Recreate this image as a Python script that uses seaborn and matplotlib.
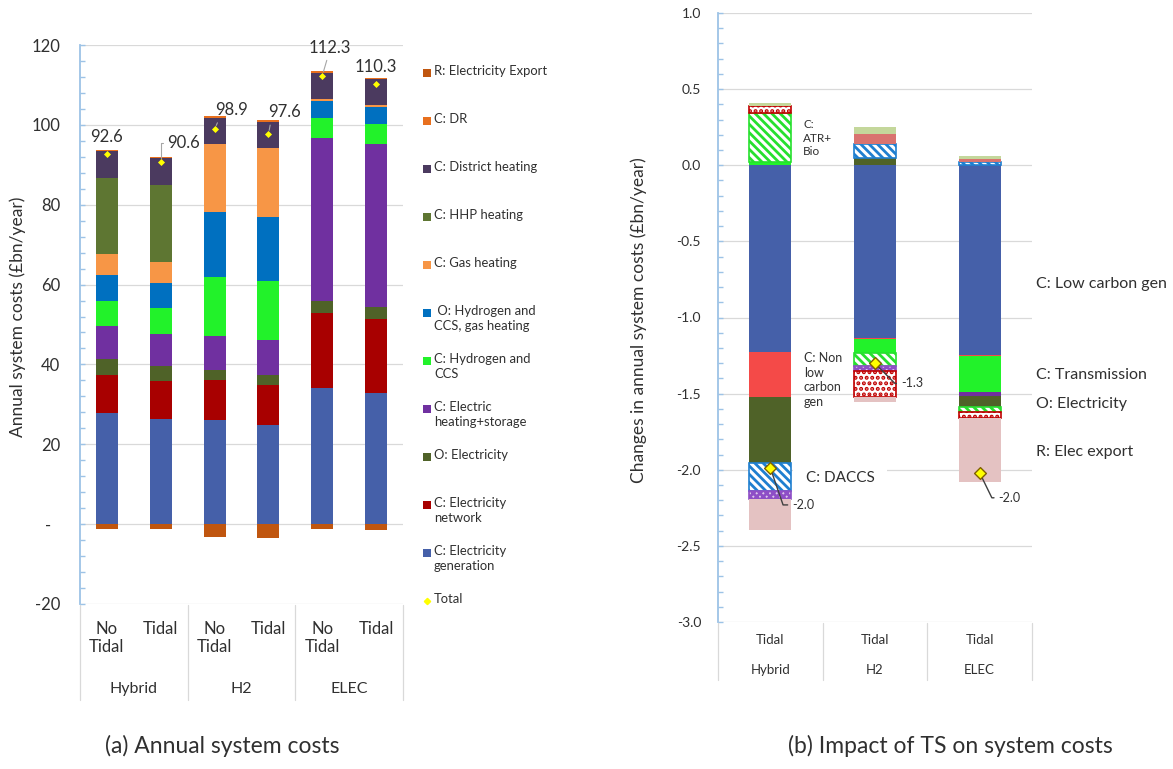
import numpy as np
import pandas as pd
import matplotlib
matplotlib.use("Agg")
import matplotlib.pyplot as plt
import matplotlib.transforms as mtransforms
from matplotlib.patches import Rectangle
from matplotlib.lines import Line2D
from matplotlib.ticker import MultipleLocator
import seaborn as sns

# ---------------- (a) Annual system costs, £bn/year ----------------
scenarios = ["Hybrid", "H2", "ELEC"]
case_labels = ["No\nTidal", "Tidal", "No\nTidal", "Tidal", "No\nTidal", "Tidal"]
bar_keys = ["Hybrid No Tidal", "Hybrid Tidal", "H2 No Tidal", "H2 Tidal",
            "ELEC No Tidal", "ELEC Tidal"]

elec_generation = [27.8, 26.3, 26.2, 24.9, 34.0, 32.8]
elec_network = [9.5, 9.6, 9.8, 9.9, 18.8, 18.5]
o_electricity = [4.0, 3.6, 2.5, 2.6, 3.2, 3.1]
electric_heating_storage = [8.4, 8.2, 8.6, 8.7, 40.7, 40.8]
hydrogen_ccs = [6.3, 6.5, 14.8, 14.8, 4.9, 4.9]
o_hydrogen_ccs_gas = [6.4, 6.3, 16.2, 15.9, 4.3, 4.3]
gas_heating = [5.2, 5.2, 17.1, 17.3, 0.6, 0.6]
hhp_heating = [19.2, 19.2, 0.0, 0.0, 0.0, 0.0]
district_heating = [6.6, 6.7, 6.6, 6.7, 6.6, 6.5]
demand_response = [0.3, 0.3, 0.3, 0.3, 0.3, 0.3]
electricity_export = [-1.1, -1.3, -3.2, -3.5, -1.1, -1.5]

# ---------------- (b) Impact of TS, £bn/year ----------------
impact_groups = ["Hybrid", "H2", "ELEC"]
impact_keys = ["Hybrid Tidal", "H2 Tidal", "ELEC Tidal"]

low_carbon_gen = [-1.224, -1.132, -1.245]
non_low_carbon_gen = [-0.300, -0.010, -0.010]
transmission = [0.020, -0.089, -0.235]
heating_storage = [0.0, 0.0, -0.023]
o_electricity_change = [-0.433, 0.045, -0.076]
daccs = [-0.183, 0.095, 0.020]
atr_bio = [0.323, -0.087, -0.031]
hydrogen_storage = [-0.052, -0.031, 0.0]
gas_network = [0.044, -0.170, -0.041]
distribution = [0.0, 0.068, 0.020]
elec_export = [-0.206, -0.033, -0.419]
other_costs = [0.023, 0.042, 0.020]

# ---------------- styling ----------------
TEXT = "#303030"
GRID = "#D9D9D9"
SPINE = "#9DC3E6"

sns.set_theme(style="white")
plt.rcParams["font.family"] = ["Lato", "DejaVu Sans"]
plt.rcParams["hatch.linewidth"] = 2.0
plt.rcParams["text.color"] = TEXT

W, H = 1173, 769
fig = plt.figure(figsize=(W / 100, H / 100), dpi=100)


def fx(px):
    return px / W


def fy(py):
    return 1 - py / H


ax1 = fig.add_axes([fx(80), fy(604), (403 - 80) / W, (604 - 45) / H])
ax2 = fig.add_axes([fx(718), fy(622), (1032 - 718) / W, (622 - 13) / H])


def solid(c):
    return dict(color=c, edgecolor=c, linewidth=0)


def hatched(c, pattern, face="white"):
    return dict(color=face, edgecolor=c, hatch=pattern, linewidth=1.2)


def draw_stack(ax, keys, series, width):
    """Stack each series on the running positive / negative totals."""
    pos_base = np.zeros(len(keys))
    neg_base = np.zeros(len(keys))
    for name, values, style in series:
        vals = np.asarray(values, dtype=float)
        bottoms = np.where(vals >= 0, pos_base, neg_base)
        keep = vals != 0
        if keep.any():
            df = pd.DataFrame({"case": np.array(keys)[keep], "value": vals[keep]})
            sns.barplot(data=df, x="case", y="value", order=keys,
                        bottom=bottoms[keep], width=width, saturation=1,
                        errorbar=None, ax=ax, **style)
        pos_base += np.clip(vals, 0, None)
        neg_base += np.clip(vals, None, 0)
    return pos_base + neg_base


def style_value_axis(ax, lo, hi, ticks, labels, minor, size, pad):
    ax.set_ylim(lo, hi)
    ax.set_yticks(ticks)
    ax.set_yticklabels(labels)
    ax.yaxis.set_minor_locator(MultipleLocator(minor))
    ax.set_axisbelow(True)
    ax.grid(False, axis="x", which="both")
    ax.yaxis.grid(True, which="major", color=GRID, lw=0.9)
    for s in ["top", "right", "bottom"]:
        ax.spines[s].set_visible(False)
    ax.spines["left"].set_color(SPINE)
    ax.spines["left"].set_linewidth(1.3)
    ax.tick_params(axis="y", which="both", direction="in", length=3.5,
                   width=1, color=SPINE, left=True, right=False)
    ax.tick_params(axis="y", which="major", labelsize=size, pad=pad,
                   labelcolor=TEXT)
    ax.set_xlabel("")
    ax.set_ylabel("")


def divider(xpx, top, bottom):
    fig.add_artist(Line2D([fx(xpx), fx(xpx)], [fy(top), fy(bottom)],
                          transform=fig.transFigure, color=GRID, lw=0.9))


# ---------------- panel (a) ----------------
cost_series = [
    ("C: Electricity\ngeneration", elec_generation, solid("#4560A9")),
    ("C: Electricity\nnetwork", elec_network, solid("#A80000")),
    ("O: Electricity", o_electricity, solid("#4F6228")),
    ("C: Electric\nheating+storage", electric_heating_storage, solid("#7030A0")),
    ("C: Hydrogen and\nCCS", hydrogen_ccs, solid("#22F22A")),
    (" O: Hydrogen and\nCCS, gas heating", o_hydrogen_ccs_gas, solid("#0070C0")),
    ("C: Gas heating", gas_heating, solid("#F79646")),
    ("C: HHP heating", hhp_heating, solid("#5E7632")),
    ("C: District heating", district_heating, solid("#4B3A5F")),
    ("C: DR", demand_response, solid("#E8701E")),
    ("R: Electricity Export", electricity_export, solid("#C0560F")),
]
totals = draw_stack(ax1, bar_keys, cost_series, 0.41)

sns.stripplot(x=bar_keys, y=totals, order=bar_keys, jitter=False, marker="D",
              size=3.6, color="#FFFF00", linewidth=0, ax=ax1, zorder=6)

style_value_axis(ax1, -20, 120, [-20, 0, 20, 40, 60, 80, 100, 120],
                 ["-20", "-  ", "20", "40", "60", "80", "100", "120"],
                 4, 12, 14.4)
ax1.set_xlim(-0.5, 5.5)
ax1.set_xticks(range(len(bar_keys)))
ax1.set_xticklabels(case_labels)
ax1.tick_params(axis="x", length=0, labelsize=12, pad=12, labelcolor=TEXT)

t1 = mtransforms.blended_transform_factory(ax1.transData, ax1.transAxes)
for g, name in enumerate(scenarios):
    ax1.text(2 * g + 0.5, -0.152, name, transform=t1, ha="center",
             va="center", fontsize=11.5, color=TEXT)
for xpx in [80, 187.7, 295.3, 402.5]:
    divider(xpx, 605, 700)

# total labels (offsets in px from the marker)
label_offsets = [(0, -17), (23, -19), (17, -19), (16, -22), (8, -28), (0, -17)]
leader_styles = [
    None,
    dict(connectionstyle="angle,angleA=0,angleB=90,rad=0", relpos=(0, 0.5)),
    dict(relpos=(0.15, 0.1)),
    dict(relpos=(0.1, 0.1)),
    dict(relpos=(0.45, 0.0)),
    None,
]
for i, (tot, (dx, dy), lead) in enumerate(zip(totals, label_offsets, leader_styles)):
    kw = {}
    if lead is not None:
        kw["arrowprops"] = dict(arrowstyle="-", color="#A6A6A6", lw=0.8,
                                shrinkA=1, shrinkB=3, **lead)
    ax1.annotate(f"{tot:.1f}", xy=(i, tot), xytext=(dx * 0.72, -dy * 0.72),
                 textcoords="offset points", ha="center", va="center",
                 fontsize=12, color=TEXT, **kw)

# legend, drawn as a column beside panel (a)
for k, (name, _, style) in enumerate(reversed(cost_series)):
    yc = 73 + 48 * k
    fig.add_artist(Rectangle((fx(423), fy(yc + 4)), 8 / W, 8 / H,
                             transform=fig.transFigure,
                             facecolor=style["color"], edgecolor="none"))
    fig.text(fx(434), fy(yc - 8), name, ha="left", va="top", fontsize=9.4,
             color=TEXT, linespacing=1.3)
yc = 73 + 48 * len(cost_series)
fig.add_artist(Line2D([fx(427)], [fy(yc)], marker="D", markersize=3.2,
                      color="#FFFF00", transform=fig.transFigure, lw=0))
fig.text(fx(434), fy(yc - 8), "Total", ha="left", va="top", fontsize=9.4,
         color=TEXT)

fig.text(fx(18), fy(317), "Annual system costs (£bn/year)", rotation=90,
         ha="center", va="center", fontsize=12.5, color=TEXT)

# ---------------- panel (b) ----------------
impact_series = [
    ("C: Low carbon gen", low_carbon_gen, solid("#4560A9")),
    ("C: Non low carbon gen", non_low_carbon_gen, solid("#F44A48")),
    ("C: Transmission", transmission, solid("#22F22A")),
    ("C: Heating storage", heating_storage, solid("#7030A0")),
    ("O: Electricity", o_electricity_change, solid("#4F6228")),
    ("C: DACCS", daccs, hatched("#1F7FD0", "\\\\\\\\")),
    ("C: ATR+Bio", atr_bio, hatched("#26E02E", "\\\\\\\\")),
    ("C: Hydrogen storage", hydrogen_storage, hatched("#8E4EC6", "xxxxx", "#DCC8EC")),
    ("C: Gas network", gas_network, hatched("#C00000", "...")),
    ("C: Distribution", distribution, solid("#D9736F")),
    ("R: Elec export", elec_export, solid("#E4C2C2")),
    ("O: Other", other_costs, solid("#C4D79B")),
]
changes = draw_stack(ax2, impact_keys, impact_series, 0.40)

sns.stripplot(x=impact_keys, y=changes, order=impact_keys, jitter=False,
              marker="D", size=6, color="#FFFF00", linewidth=1,
              edgecolor="#7F6000", ax=ax2, zorder=6)

ticks2 = np.arange(-3.0, 1.01, 0.5)
style_value_axis(ax2, -3.0, 1.0, ticks2, [f"{t:.1f}" for t in ticks2],
                 0.1, 10, 12.2)
ax2.set_xlim(-0.5, 2.5)
ax2.set_xticks(range(len(impact_keys)))
ax2.set_xticklabels(["Tidal"] * len(impact_keys))
ax2.tick_params(axis="x", length=0, labelsize=9.5, pad=8.5, labelcolor=TEXT)

t2 = mtransforms.blended_transform_factory(ax2.transData, ax2.transAxes)
for g, name in enumerate(impact_groups):
    ax2.text(g, -0.0788, name, transform=t2, ha="center", va="center",
             fontsize=9.5, color=TEXT)
for xpx in [718, 822.7, 927.3, 1031.5]:
    divider(xpx, 623, 680)

# net change labels (offsets in px from the marker)
change_offsets = [(22, 37), (26, 20), (19, 25)]
leader_angles = [-71, -45, -64]
for i, (val, (dx, dy), ang) in enumerate(zip(changes, change_offsets, leader_angles)):
    ax2.annotate(f"{val:.1f}", xy=(i, val), xytext=(dx * 0.72, -dy * 0.72),
                 textcoords="offset points", ha="left", va="center",
                 fontsize=9, color=TEXT,
                 arrowprops=dict(arrowstyle="-", color="#404040", lw=1,
                                 shrinkA=1, shrinkB=0, relpos=(0, 0.5),
                                 connectionstyle=f"angle,angleA=0,angleB={ang},rad=0"))

fig.text(fx(803), fy(138), "C:\nATR+\nBio", ha="left", va="center",
         fontsize=8.5, color=TEXT, linespacing=1.25)
fig.text(fx(804), fy(380), "C: Non\nlow\ncarbon\ngen", ha="left", va="center",
         fontsize=9, color=TEXT, linespacing=1.25)
fig.text(fx(806), fy(478), "C: DACCS", ha="left", va="center", fontsize=11,
         color=TEXT, bbox=dict(facecolor="white", edgecolor="none", pad=9))
for text, ypx in [("C: Low carbon gen", 284), ("C: Transmission", 375),
                  ("O: Electricity", 404), ("R: Elec export", 452)]:
    fig.text(fx(1036), fy(ypx), text, ha="left", va="center", fontsize=11.5,
             color=TEXT)

fig.text(fx(639), fy(320), "Changes in annual system costs (£bn/year)",
         rotation=90, ha="center", va="center", fontsize=12.5, color=TEXT)

# ---------------- captions ----------------
fig.text(fx(222), fy(746), "(a) Annual system costs", ha="center",
         va="center", fontsize=16.5, color=TEXT)
fig.text(fx(950), fy(746), "(b) Impact of TS on system costs", ha="center",
         va="center", fontsize=16.5, color=TEXT)

fig.savefig("out.png", dpi=100, facecolor="white")
